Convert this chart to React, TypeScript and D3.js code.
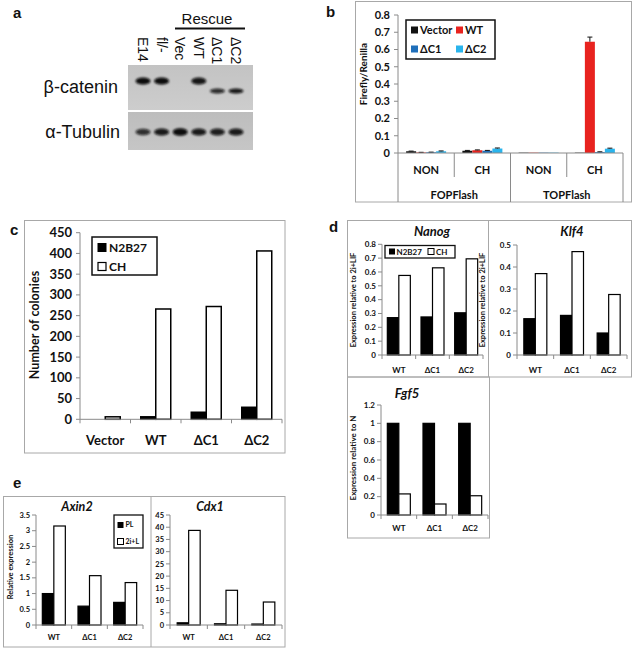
import React from "react";
import * as d3 from "d3";

const FONT = "Lato, 'Open Sans', sans-serif";
const ARIAL = "'Liberation Sans', Arial, sans-serif";

// ---------- panel a (western blot) ----------
const blotLanes = ["E14", "fl/-", "Vec", "WT", "ΔC1", "ΔC2"];
const cateninIntensity = [1, 1, 0, 0.95, 0.85, 0.95];
const cateninTruncated = [false, false, false, false, true, true];
const tubulinIntensity = [0.6, 0.85, 1, 0.85, 0.8, 0.85];

// ---------- panel b ----------
const bGroups = ["FOPFlash", "TOPFlash"];
const bConditions = ["NON", "CH"];
const bSeries = ["Vector", "WT", "ΔC1", "ΔC2"];
const bColors = ["#111111", "#e8231f", "#1f6fba", "#2ab4ec"];
// rows: FOP NON, FOP CH, TOP NON, TOP CH ; columns: series
const bValues = [
  [0.01, 0.003, 0.004, 0.01],
  [0.013, 0.016, 0.013, 0.026],
  [0.002, 0.002, 0.002, 0.002],
  [0.002, 0.645, 0.005, 0.025],
];
const bErrors = [
  [0.001, 0.001, 0.001, 0.002],
  [0.002, 0.002, 0.002, 0.003],
  [0.0, 0.0, 0.0, 0.0],
  [0.0, 0.027, 0.002, 0.003],
];
const bTicks = [0, 0.1, 0.2, 0.3, 0.4, 0.5, 0.6, 0.7, 0.8];

// ---------- panel c ----------
const cCategories = ["Vector", "WT", "ΔC1", "ΔC2"];
const cN2B27 = [0, 6, 17, 29];
const cCH = [6, 266, 272, 406];
const cTicks = [0, 50, 100, 150, 200, 250, 300, 350, 400, 450];

// ---------- panel d ----------
const dCategories = ["WT", "ΔC1", "ΔC2"];
const nanogN2B27 = [0.27, 0.275, 0.305];
const nanogCH = [0.575, 0.63, 0.695];
const nanogTicks = [0, 0.1, 0.2, 0.3, 0.4, 0.5, 0.6, 0.7, 0.8];
const klf4N2B27 = [0.165, 0.18, 0.1];
const klf4CH = [0.37, 0.47, 0.275];
const klf4Ticks = [0, 0.1, 0.2, 0.3, 0.4, 0.5];
const fgf5N2B27 = [1, 1, 1];
const fgf5CH = [0.23, 0.12, 0.21];
const fgf5Ticks = [0, 0.2, 0.4, 0.6, 0.8, 1, 1.2];

// ---------- panel e ----------
const eCategories = ["WT", "ΔC1", "ΔC2"];
const axin2PL = [1.0, 0.6, 0.72];
const axin2TwoIL = [3.15, 1.57, 1.35];
const axin2Ticks = [0, 0.5, 1, 1.5, 2, 2.5, 3, 3.5];
const cdx1PL = [0.9, 0.5, 0.4];
const cdx1TwoIL = [38.7, 14.2, 9.4];
const cdx1Ticks = [0, 5, 10, 15, 20, 25, 30, 35, 40, 45];

type S = { values: number[]; fill: string };

type BarProps = {
  x0: number; x1: number; y0: number; yTop: number; yMax: number;
  ticks: number[]; categories: string[]; series: S[]; barW: number;
  tickFont: number; catFont: number; catY: number; barStroke: number;
  axisColor?: string; tickGap?: number;
};

function BarPanel(p: BarProps) {
  const axisColor = p.axisColor ?? "#8a8a8a";
  const y = d3.scaleLinear().domain([0, p.yMax]).range([p.y0, p.yTop]);
  const x = d3.scaleBand().domain(p.categories).range([p.x0, p.x1]).padding(0);
  const names = p.series.map((_, i) => String(i));
  const bounds = [...p.categories.map((c) => x(c) as number), p.x1];
  const gap = p.tickGap ?? 4;
  return (
    <g>
      {p.categories.map((c, ci) => {
        const cx = (x(c) as number) + x.bandwidth() / 2;
        const inner = d3
          .scaleBand()
          .domain(names)
          .range([cx - (p.barW * names.length) / 2, cx + (p.barW * names.length) / 2]);
        return p.series.map((s, si) => {
          const v = s.values[ci];
          if (v <= 0) return null;
          const yv = y(v);
          return (
            <rect
              key={c + si}
              x={inner(String(si))}
              y={yv}
              width={inner.bandwidth()}
              height={p.y0 - yv}
              fill={s.fill}
              stroke="#000"
              strokeWidth={p.barStroke}
            />
          );
        });
      })}
      <line x1={p.x0} x2={p.x0} y1={p.y0} y2={p.yTop} stroke={axisColor} strokeWidth={1} />
      {p.ticks.map((t) => (
        <g key={t}>
          <line x1={p.x0 - 4} x2={p.x0} y1={y(t)} y2={y(t)} stroke={axisColor} />
          <text
            x={p.x0 - 4 - gap}
            y={y(t)}
            dy="0.35em"
            textAnchor="end"
            fontFamily={FONT}
            fontWeight="bold"
            fontSize={p.tickFont}
            fill="#111"
          >
            {String(t)}
          </text>
        </g>
      ))}
      <line x1={p.x0} x2={p.x1} y1={p.y0} y2={p.y0} stroke={axisColor} />
      {bounds.map((b, i) => (
        <line key={i} x1={b} x2={b} y1={p.y0} y2={p.y0 + 4} stroke={axisColor} />
      ))}
      {p.categories.map((c) => (
        <text
          key={c}
          x={(x(c) as number) + x.bandwidth() / 2}
          y={p.catY}
          dy="0.35em"
          textAnchor="middle"
          fontFamily={FONT}
          fontWeight="bold"
          fontSize={p.catFont}
          fill="#111"
        >
          {c}
        </text>
      ))}
    </g>
  );
}

function YLabel({ x, y, text, size }: { x: number; y: number; text: string; size: number }) {
  return (
    <text
      transform={`translate(${x},${y}) rotate(-90)`}
      textAnchor="middle"
      dy="0.35em"
      fontFamily={FONT}
      fontWeight="bold"
      fontSize={size}
      fill="#111"
    >
      {text}
    </text>
  );
}

function Title({ x, y, text, size }: { x: number; y: number; text: string; size: number }) {
  return (
    <text x={x} y={y} textAnchor="middle" fontFamily={FONT} fontWeight="bold" fontStyle="italic" fontSize={size} fill="#111">
      {text}
    </text>
  );
}

function Blot() {
  const x = d3.scalePoint().domain(blotLanes).range([143, 236]);
  return (
    <g>
      <defs>
        <filter id="blur1" x="-50%" y="-100%" width="200%" height="300%">
          <feGaussianBlur stdDeviation="0.9" />
        </filter>
        <linearGradient id="blotg1" x1="0" x2="0" y1="0" y2="1">
          <stop offset="0" stopColor="#c3c3c3" />
          <stop offset="1" stopColor="#cdcdcd" />
        </linearGradient>
        <linearGradient id="blotg2" x1="0" x2="0" y1="0" y2="1">
          <stop offset="0" stopColor="#bdbdbd" />
          <stop offset="1" stopColor="#c6c6c6" />
        </linearGradient>
      </defs>
      <text x={13} y={18} fontFamily={ARIAL} fontWeight="bold" fontSize={15} fill="#111">a</text>
      <rect x={128} y={65} width={125} height={45} fill="url(#blotg1)" />
      <rect x={128} y={112} width={125} height={38} fill="url(#blotg2)" />
      {blotLanes.map((l, i) => {
        const cx = x(l) as number;
        const v = cateninIntensity[i];
        const tr = cateninTruncated[i];
        return (
          <g key={l} filter="url(#blur1)">
            {v > 0 && (
              <ellipse cx={cx} cy={tr ? 91 : 81} rx={7.5} ry={tr ? 2.6 : 3.6} fill="#0a0a0a" opacity={v} />
            )}
            <ellipse cx={cx} cy={132} rx={7.5} ry={2.4 + tubulinIntensity[i] * 1.4} fill="#0a0a0a" opacity={0.55 + 0.45 * tubulinIntensity[i]} />
          </g>
        );
      })}
      {blotLanes.map((l) => (
        <text
          key={l}
          transform={`translate(${(x(l) as number) - 5},37) rotate(90)`}
          fontFamily={ARIAL}
          fontSize={14}
          fill="#111"
        >
          {l}
        </text>
      ))}
      <text x={207} y={24} textAnchor="middle" fontFamily={ARIAL} fontSize={15} fill="#111">Rescue</text>
      <line x1={175} x2={245} y1={28.5} y2={28.5} stroke="#111" strokeWidth={1.8} />
      <text x={118} y={87} dy="0.35em" textAnchor="end" fontFamily={ARIAL} fontSize={18} fill="#111">β-catenin</text>
      <text x={120} y={132} dy="0.35em" textAnchor="end" fontFamily={ARIAL} fontSize={18} fill="#111">α-Tubulin</text>
    </g>
  );
}

function PanelB() {
  const frame = "#a8a8a8";
  const axisColor = "#8a8a8a";
  const cats = bGroups.flatMap((g) => bConditions.map((c) => g + "|" + c));
  const x = d3.scaleBand().domain(cats).range([398, 623]).padding(0);
  const y = d3.scaleLinear().domain([0, 0.8]).range([153, 15]);
  const barW = 10;
  const groupX = d3.scaleBand().domain(bGroups).range([398, 623]).padding(0);
  return (
    <g>
      <text x={326} y={17} fontFamily={ARIAL} fontWeight="bold" fontSize={15} fill="#111">b</text>
      <rect x={355.5} y={1.5} width={276} height={200.5} fill="none" stroke={frame} />
      {cats.map((c, ci) => {
        const cx = (x(c) as number) + x.bandwidth() / 2;
        const inner = d3.scaleBand().domain(bSeries).range([cx - barW * 2, cx + barW * 2]);
        return bSeries.map((s, si) => {
          const v = bValues[ci][si];
          const e = bErrors[ci][si];
          const bx = inner(s) as number;
          const mid = bx + inner.bandwidth() / 2;
          return (
            <g key={c + s}>
              <rect x={bx} y={y(v)} width={inner.bandwidth()} height={153 - y(v)} fill={bColors[si]} />
              {e > 0 && (
                <g stroke="#111" strokeWidth={1}>
                  <line x1={mid} x2={mid} y1={y(v)} y2={y(v + e)} />
                  <line x1={mid - 2.5} x2={mid + 2.5} y1={y(v + e)} y2={y(v + e)} />
                </g>
              )}
            </g>
          );
        });
      })}
      <line x1={398} x2={398} y1={15} y2={202} stroke={axisColor} />
      {bTicks.map((t) => (
        <g key={t}>
          <line x1={394} x2={398} y1={y(t)} y2={y(t)} stroke={axisColor} />
          <text x={390} y={y(t)} dy="0.35em" textAnchor="end" fontFamily={FONT} fontWeight="bold" fontSize={11} fill="#111">
            {String(t)}
          </text>
        </g>
      ))}
      <line x1={398} x2={623} y1={153} y2={153} stroke={axisColor} />
      {cats.map((c, ci) => {
        const left = x(c) as number;
        const isGroupStart = ci % 2 === 0;
        return (
          <g key={c}>
            {!isGroupStart && <line x1={left} x2={left} y1={153} y2={177} stroke={axisColor} />}
            {isGroupStart && ci > 0 && <line x1={left} x2={left} y1={153} y2={202} stroke={axisColor} />}
            <text x={left + x.bandwidth() / 2} y={170} dy="0.35em" textAnchor="middle" fontFamily={FONT} fontWeight="bold" fontSize={11} fill="#111">
              {c.split("|")[1]}
            </text>
          </g>
        );
      })}
      <line x1={623} x2={623} y1={153} y2={202} stroke={axisColor} />
      {bGroups.map((g) => (
        <text key={g} x={(groupX(g) as number) + groupX.bandwidth() / 2} y={195} dy="0.35em" textAnchor="middle" fontFamily={FONT} fontWeight="bold" fontSize={11} fill="#111">
          {g}
        </text>
      ))}
      <YLabel x={363} y={74} text="Firefly/Renilla" size={10} />
      <rect x={406} y={20} width={89} height={39} fill="#fff" stroke="#111" strokeWidth={1.5} />
      {bSeries.map((s, i) => {
        const lx = i % 2 === 0 ? 411 : 456;
        const ly = i < 2 ? 30 : 49;
        return (
          <g key={s}>
            <rect x={lx} y={ly - 3.5} width={7} height={7} fill={bColors[i]} />
            <text x={lx + 9} y={ly} dy="0.35em" fontFamily={FONT} fontWeight="bold" fontSize={11} fill="#111">{s}</text>
          </g>
        );
      })}
    </g>
  );
}

function PanelC() {
  return (
    <g>
      <text x={10} y={235} fontFamily={ARIAL} fontWeight="bold" fontSize={15} fill="#111">c</text>
      <rect x={24.5} y={220.5} width={260.5} height={232.5} fill="none" stroke="#a8a8a8" />
      <BarPanel
        x0={80} x1={282} y0={419.3} yTop={232.7} yMax={450}
        ticks={cTicks} categories={cCategories}
        series={[{ values: cN2B27, fill: "#000" }, { values: cCH, fill: "#fff" }]}
        barW={15} tickFont={13} catFont={13} catY={440} barStroke={1.5} tickGap={4}
      />
      <YLabel x={35} y={325} text="Number of colonies" size={12.5} />
      <rect x={92} y={237} width={65} height={38} fill="#fff" stroke="#111" strokeWidth={1.5} />
      <rect x={98} y={243.5} width={8} height={8} fill="#000" stroke="#000" />
      <text x={109} y={248} dy="0.35em" fontFamily={FONT} fontWeight="bold" fontSize={12} fill="#111">N2B27</text>
      <rect x={98} y={262.5} width={8} height={8} fill="#fff" stroke="#000" strokeWidth={1.2} />
      <text x={109} y={267} dy="0.35em" fontFamily={FONT} fontWeight="bold" fontSize={12} fill="#111">CH</text>
    </g>
  );
}

function PanelD() {
  const frame = "#a8a8a8";
  return (
    <g>
      <text x={329} y={232} fontFamily={ARIAL} fontWeight="bold" fontSize={15} fill="#111">d</text>
      <rect x={347.5} y={220.5} width={284} height={156.5} fill="none" stroke={frame} />
      <line x1={488.5} x2={488.5} y1={220.5} y2={377} stroke={frame} />
      <rect x={347.5} y={377} width={142} height={161} fill="none" stroke={frame} />

      <Title x={432} y={236} text="Nanog" size={13} />
      <BarPanel
        x0={382} x1={483} y0={355} yTop={244.3} yMax={0.8}
        ticks={nanogTicks} categories={dCategories}
        series={[{ values: nanogN2B27, fill: "#000" }, { values: nanogCH, fill: "#fff" }]}
        barW={11.5} tickFont={8} catFont={8} catY={370} barStroke={1.2} tickGap={2}
      />
      <YLabel x={353} y={300} text="Expression relative to 2i+LIF" size={7.5} />
      <rect x={385} y={245.5} width={70} height={12.5} fill="#fff" stroke="#111" strokeWidth={1.3} />
      <rect x={389} y={248.5} width={6} height={6} fill="#000" />
      <text x={396.5} y={251.7} dy="0.35em" fontFamily={FONT} fontWeight="bold" fontSize={8} fill="#111">N2B27</text>
      <rect x={428} y={248.5} width={6} height={6} fill="#fff" stroke="#000" />
      <text x={436} y={251.7} dy="0.35em" fontFamily={FONT} fontWeight="bold" fontSize={8} fill="#111">CH</text>

      <Title x={572} y={236} text="Klf4" size={13} />
      <BarPanel
        x0={517} x1={627} y0={355} yTop={245} yMax={0.5}
        ticks={klf4Ticks} categories={dCategories}
        series={[{ values: klf4N2B27, fill: "#000" }, { values: klf4CH, fill: "#fff" }]}
        barW={11.5} tickFont={8} catFont={8} catY={370} barStroke={1.2} tickGap={2}
      />
      <YLabel x={482} y={300} text="Expression relative to 2i+LIF" size={7.5} />

      <Title x={407} y={398} text="Fgf5" size={13} />
      <BarPanel
        x0={381} x1={488} y0={515} yTop={405} yMax={1.2}
        ticks={fgf5Ticks} categories={dCategories}
        series={[{ values: fgf5N2B27, fill: "#000" }, { values: fgf5CH, fill: "#fff" }]}
        barW={11.5} tickFont={8} catFont={8} catY={528} barStroke={1.2} tickGap={2}
      />
      <YLabel x={353} y={458} text="Expression relative to N" size={8} />
    </g>
  );
}

function PanelE() {
  const frame = "#a8a8a8";
  return (
    <g>
      <text x={13} y={488} fontFamily={ARIAL} fontWeight="bold" fontSize={15} fill="#111">e</text>
      <rect x={3.5} y={496.5} width={281.5} height={150.5} fill="none" stroke={frame} />
      <line x1={151} x2={151} y1={496.5} y2={647} stroke={frame} />

      <Title x={77} y={511} text="Axin2" size={12.5} />
      <BarPanel
        x0={36} x1={143} y0={625} yTop={515} yMax={3.5}
        ticks={axin2Ticks} categories={eCategories}
        series={[{ values: axin2PL, fill: "#000" }, { values: axin2TwoIL, fill: "#fff" }]}
        barW={11.5} tickFont={7.5} catFont={7.5} catY={637} barStroke={1.2} tickGap={2}
      />
      <YLabel x={10} y={567} text="Relative expression" size={7.5} />
      <rect x={114} y={515} width={29} height={33} fill="#fff" stroke="#111" strokeWidth={1.3} />
      <rect x={117.5} y={522} width={6} height={6} fill="#000" />
      <text x={125.5} y={525} dy="0.35em" fontFamily={FONT} fontWeight="bold" fontSize={7} fill="#111">PL</text>
      <rect x={117.5} y={538.5} width={6} height={6} fill="#fff" stroke="#000" />
      <text x={125.5} y={541.5} dy="0.35em" fontFamily={FONT} fontWeight="bold" fontSize={7} fill="#111">2i+L</text>

      <Title x={210} y={511} text="Cdx1" size={12.5} />
      <BarPanel
        x0={170} x1={282} y0={625} yTop={515} yMax={45}
        ticks={cdx1Ticks} categories={eCategories}
        series={[{ values: cdx1PL, fill: "#000" }, { values: cdx1TwoIL, fill: "#fff" }]}
        barW={11.5} tickFont={7.5} catFont={7.5} catY={637} barStroke={1.2} tickGap={2}
      />
    </g>
  );
}

export default function App() {
  return (
    <svg
      width={633}
      height={651}
      viewBox="0 0 633 651"
      style={{ position: "absolute", left: 0, top: 0, background: "#fff" }}
    >
      <rect x={0} y={0} width={633} height={651} fill="#fff" />
      <Blot />
      <PanelB />
      <PanelC />
      <PanelD />
      <PanelE />
    </svg>
  );
}
